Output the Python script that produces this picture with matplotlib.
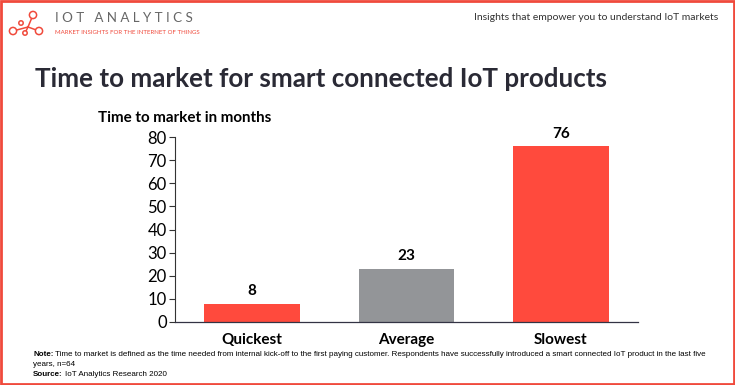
import matplotlib
matplotlib.use("Agg")
import matplotlib.pyplot as plt
from matplotlib.patches import Rectangle, Circle

categories = ["Quickest", "Average", "Slowest"]
values = [8, 23, 76]
value_labels = ["8", "23", "76"]
yticks = [0, 10, 20, 30, 40, 50, 60, 70, 80]

RED = "#ff4a3d"
GRAY = "#939598"
DARK = "#2a2a35"
colors = [RED, GRAY, RED]

W, H = 735, 385
fig = plt.figure(figsize=(W / 100, H / 100), dpi=100)
fig.patch.set_facecolor("white")

def fx(px):
    return px / W

def fy(py):
    return 1 - py / H

# overlay in pixel coordinates for decorations
ov = fig.add_axes([0, 0, 1, 1], zorder=5)
ov.set_xlim(0, W)
ov.set_ylim(H, 0)
ov.axis("off")
ov.patch.set_alpha(0)

# border
ov.add_patch(Rectangle((1, 1), W - 2, H - 2, fill=False, edgecolor="#f04a3c", linewidth=2))

# logo icon
J = (28, 27)
nodes = [(33, 15, 3.6), (21, 23, 2.2), (13, 31, 3.6), (25, 33, 2.2), (39, 31, 3.6)]
for (x, y, r) in [nodes[0], nodes[2], nodes[3], nodes[4]]:
    ov.plot([J[0], x], [J[1], y], color="#f04a3c", lw=1.1)
for (x, y, r) in nodes:
    ov.add_patch(Circle((x, y), r, facecolor="white", edgecolor="#f04a3c", lw=1.1, zorder=3))

fig.text(fx(55), fy(18), "I O T   A N A L Y T I C S", fontsize=9.6, color="#666666",
         family="Lato", va="center", ha="left")
fig.text(fx(55), fy(32), "MARKET INSIGHTS FOR THE INTERNET OF THINGS", fontsize=4.4,
         color="#f04a3c", family="Lato", va="center", ha="left")

fig.text(fx(718), fy(18), "Insights that empower you to understand IoT markets", fontsize=7.5,
         color="#333333", family="Lato", va="center", ha="right")

fig.text(fx(35), fy(79), "Time to market for smart connected IoT products", fontsize=18.7,
         fontweight="bold", color=DARK, family="Lato", va="center", ha="left")

fig.text(fx(98), fy(118), "Time to market in months", fontsize=10.9, fontweight="bold",
         color="black", family="Lato", va="center", ha="left")

# axes
ax = fig.add_axes([fx(175), fy(322), (638 - 175) / W, (322 - 137) / H])
x = list(range(len(categories)))
ax.bar(x, values, width=0.62, color=colors)
ax.set_xlim(-0.5, len(categories) - 0.5)
ax.set_ylim(0, 80)
ax.set_yticks(yticks)
ax.set_yticklabels([str(t) for t in yticks], fontsize=12, family="Lato")
ax.set_xticks(x)
ax.set_xticklabels(categories, fontsize=11, fontweight="bold", family="Lato")
ax.tick_params(axis="x", length=0, pad=8)
ax.tick_params(axis="y", length=4, width=0.8, color="#333333", pad=2)
for s in ["top", "right"]:
    ax.spines[s].set_visible(False)
ax.spines["left"].set_color("#333333")
ax.spines["bottom"].set_color("#333344")
ax.spines["left"].set_linewidth(0.8)
ax.spines["bottom"].set_linewidth(0.9)
for xi, v, lab in zip(x, values, value_labels):
    ax.annotate(lab, (xi, v), xytext=(0, 4), textcoords="offset points", ha="center",
                va="bottom", fontsize=11, fontweight="bold", family="Lato")

nf = "Liberation Sans"
fs = 5.8
fig.text(fx(33), fy(355), "Note:", fontsize=fs, fontweight="bold", family=nf, va="center", ha="left")
fig.text(fx(55), fy(355), "Time to market is defined as the time needed from internal kick-off to the first paying customer. "
         "Respondents have successfully introduced a smart connected IoT product in the last five",
         fontsize=fs, family=nf, va="center", ha="left")
fig.text(fx(33), fy(365), "years, n=64", fontsize=fs, family=nf, va="center", ha="left")
fig.text(fx(33), fy(375), "Source:", fontsize=fs, fontweight="bold", family=nf, va="center", ha="left")
fig.text(fx(65), fy(375), "IoT Analytics Research 2020", fontsize=fs, family=nf, va="center", ha="left")

fig.savefig("out.png", dpi=100)
